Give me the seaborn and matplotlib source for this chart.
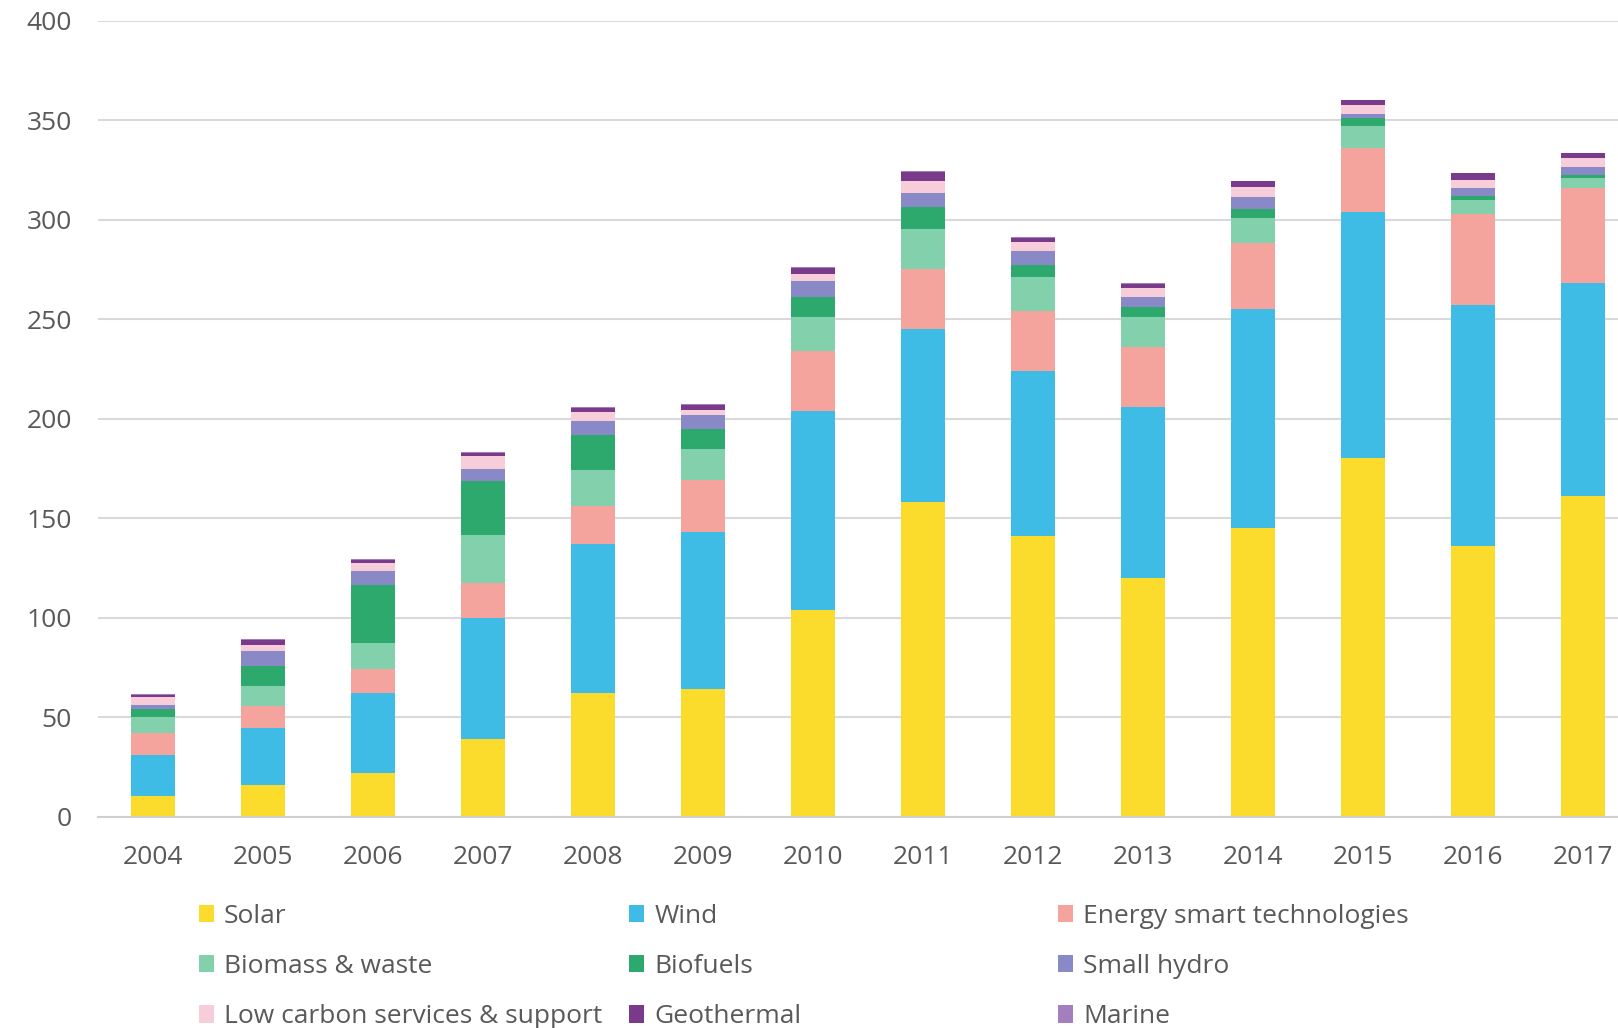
"""Stacked bar chart: low carbon investment by technology, 2004-2017."""
import pandas as pd
import matplotlib
matplotlib.use("Agg")
import matplotlib.pyplot as plt
from matplotlib.patches import Patch
import seaborn as sns

years = list(range(2004, 2018))

solar = [10.5, 16, 22, 39, 62, 64, 104, 158, 141, 120, 145, 180, 136, 161]
wind = [20.5, 28.5, 40, 61, 75, 79, 100, 87, 83, 86, 110, 124, 121, 107]
energy_smart = [11, 11, 12, 17.5, 19, 26, 30, 30, 30, 30, 33, 32, 46, 48]
biomass = [8, 10, 13.5, 24, 18, 16, 17, 20.5, 17, 15, 13, 11, 7, 5]
biofuels = [4, 10, 29, 27, 18, 10, 10, 11, 6, 5, 4.5, 4, 2, 1.5]
small_hydro = [2, 8, 7, 6, 7, 7, 8, 7, 7, 5, 6, 2, 4, 4]
low_carbon = [4, 3, 4, 6.5, 4.5, 2.5, 3.5, 6, 5, 4.5, 5, 4.5, 4, 4.5]
geothermal = [1.3, 2.3, 1.7, 1.7, 2, 2.4, 3, 4.5, 2, 2.3, 2.8, 2.4, 3.3, 2.3]
marine = [0.3, 0.3, 0.3, 0.3, 0.3, 0.3, 0.5, 0.5, 0.3, 0.3, 0.3, 0.3, 0.3, 0.3]

categories = ["Solar", "Wind", "Energy smart technologies", "Biomass & waste",
              "Biofuels", "Small hydro", "Low carbon services & support",
              "Geothermal", "Marine"]
series = [solar, wind, energy_smart, biomass, biofuels, small_hydro,
          low_carbon, geothermal, marine]
colors = ["#fbdb2b", "#3ebce6", "#f5a39d", "#83d0ac", "#2ea96d",
          "#8a89c8", "#f7cdd9", "#7a3a8c", "#a47fc0"]

# long table for seaborn
rows = []
for cat, vals in zip(categories, series):
    for yr, v in zip(years, vals):
        rows.append({"year": yr, "category": cat, "value": v})
df = pd.DataFrame(rows)

sns.set_theme(style="white")
plt.rcParams["font.family"] = ["Open Sans", "DejaVu Sans"]

fig = plt.figure(figsize=(16.18, 10.28), dpi=100)
ax = fig.add_axes([0.0606, 0.2055, 0.952, 0.7745])

# seaborn stacks the last hue level at the bottom, so reverse the order
sns.histplot(data=df, x="year", weights="value", hue="category",
             hue_order=categories[::-1], palette=colors[::-1],
             multiple="stack", discrete=True, shrink=0.4,
             alpha=1, linewidth=0, legend=False, ax=ax)

ax.set_xlim(2003.5, 2017.5)
ax.set_ylim(0, 400)
ax.set_yticks(range(0, 401, 50))
ax.set_xticks(years)
ax.set_xticklabels([str(y) for y in years])
ax.set_xlabel("")
ax.set_ylabel("")
ax.yaxis.grid(True, color="#d9d9d9", linewidth=1.5)
ax.set_axisbelow(True)
for side in ["left", "right", "top"]:
    ax.spines[side].set_visible(False)
ax.spines["bottom"].set_color("#d0d0d0")
ax.spines["bottom"].set_linewidth(1.5)
ax.tick_params(axis="both", length=0, labelsize=19, labelcolor="#595959")
ax.tick_params(axis="x", pad=20.5)
ax.tick_params(axis="y", pad=19)

# legend laid out row-wise in three columns
handles = [Patch(facecolor=c, edgecolor="none") for c in colors]
col_x = [0.123, 0.389, 0.654]
for i, x in enumerate(col_x):
    idx = [i, i + 3, i + 6]
    fig.legend([handles[j] for j in idx], [categories[j] for j in idx],
               loc="upper left", bbox_to_anchor=(x, 0.121), frameon=False,
               fontsize=19, labelcolor="#595959", borderpad=0,
               borderaxespad=0, handlelength=0.55, handleheight=0.65,
               handletextpad=0.4, labelspacing=0.96)

fig.savefig("out.png", dpi=100)
